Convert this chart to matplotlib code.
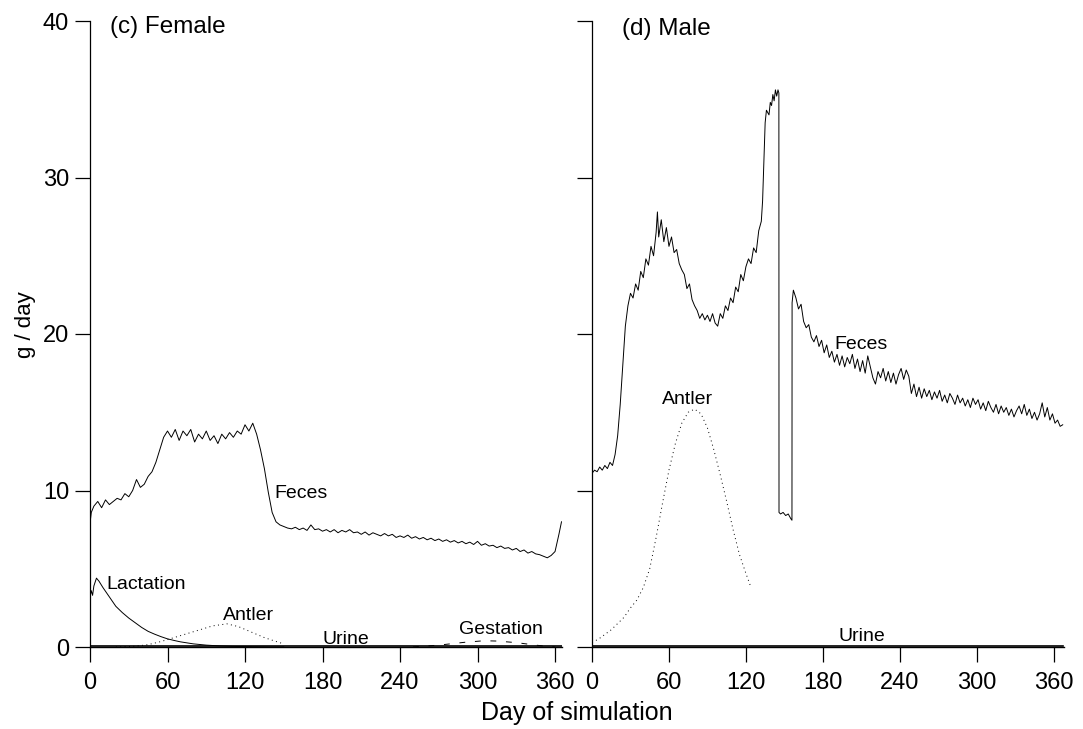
import matplotlib
matplotlib.use("Agg")
import matplotlib.pyplot as plt

plt.rcParams['font.family'] = ['Liberation Sans', 'DejaVu Sans']

# ---------------- data ----------------
y_ticks = [0, 10, 20, 30, 40]
x_ticks = [0, 60, 120, 180, 240, 300, 360]

female_feces = [
    (0, 7.9), (1, 8.6), (3, 9.0), (6, 9.3), (9, 8.9), (12, 9.4), (15, 9.1), (18, 9.3), (21, 9.5),
    (24, 9.4), (27, 9.8), (30, 9.6), (33, 10.0), (36, 10.7), (39, 10.2), (42, 10.4), (45, 10.9),
    (48, 11.2), (51, 11.8), (54, 12.6), (57, 13.4), (60, 13.8), (63, 13.4), (66, 13.9), (69, 13.2),
    (72, 13.8), (75, 13.5), (78, 13.9), (81, 13.1), (84, 13.6), (87, 13.3), (90, 13.8), (93, 13.2),
    (96, 13.5), (99, 13.0), (102, 13.6), (105, 13.3), (108, 13.7), (111, 13.4), (114, 13.8),
    (117, 13.6), (120, 14.2), (123, 13.8), (126, 14.3), (129, 13.6), (132, 12.6), (135, 11.4),
    (138, 9.9), (141, 8.6), (144, 8.0), (147, 7.8), (150, 7.7), (153, 7.6), (156, 7.55),
    (159, 7.65), (162, 7.5), (165, 7.6), (168, 7.45), (171, 7.8), (174, 7.5), (177, 7.55),
    (180, 7.4), (183, 7.5), (186, 7.35), (189, 7.5), (192, 7.3), (195, 7.45), (198, 7.35),
    (201, 7.5), (204, 7.3), (207, 7.35), (210, 7.2), (213, 7.35), (216, 7.15), (219, 7.3),
    (222, 7.2), (225, 7.1), (228, 7.25), (231, 7.1), (234, 7.2), (237, 7.0), (240, 7.1),
    (243, 7.0), (246, 7.15), (249, 6.95), (252, 7.05), (255, 6.9), (258, 7.0), (261, 6.85),
    (264, 6.95), (267, 6.8), (270, 6.9), (273, 6.75), (276, 6.85), (279, 6.7), (282, 6.8),
    (285, 6.65), (288, 6.75), (291, 6.6), (294, 6.7), (297, 6.55), (300, 6.75), (303, 6.5),
    (306, 6.6), (309, 6.45), (312, 6.5), (315, 6.35), (318, 6.45), (321, 6.3), (324, 6.35),
    (327, 6.2), (330, 6.3), (333, 6.1), (336, 6.2), (339, 6.0), (342, 6.1), (345, 5.95),
    (348, 5.9), (351, 5.8), (354, 5.7), (357, 5.85), (360, 6.1), (363, 7.2), (365, 8.0),
]

female_lactation = [
    (0, 3.2), (1, 3.6), (2, 3.3), (3, 3.9), (5, 4.4), (7, 4.2), (10, 3.8), (15, 3.2), (20, 2.6),
    (25, 2.2), (30, 1.85), (35, 1.55), (40, 1.25), (45, 1.0), (50, 0.82), (55, 0.66), (60, 0.52),
    (65, 0.42), (70, 0.33), (80, 0.2), (90, 0.12), (100, 0.07), (110, 0.04), (125, 0.02),
    (140, 0.0), (150, 0.0),
]

female_antler = [
    (20, 0.0), (35, 0.05), (45, 0.15), (55, 0.35), (65, 0.6), (75, 0.85), (85, 1.1), (95, 1.35),
    (106, 1.48), (115, 1.3), (125, 0.95), (135, 0.6), (146, 0.3), (148, 0.25),
]

female_gestation = [
    (250, 0.0), (270, 0.12), (290, 0.3), (305, 0.4), (315, 0.38), (330, 0.28), (345, 0.12),
    (355, 0.03), (360, 0.0),
]

female_urine = [(0, 0.05), (365, 0.05)]

male_feces = [
    (0, 11.1), (2, 11.3), (4, 11.2), (6, 11.5), (8, 11.3), (10, 11.6), (12, 11.4), (14, 11.8),
    (16, 11.6), (18, 12.3), (20, 13.5), (22, 15.5), (24, 18.0), (26, 20.5), (28, 21.8), (30, 22.6),
    (32, 22.3), (34, 23.2), (36, 22.8), (38, 24.0), (40, 23.6), (42, 24.8), (44, 24.4), (46, 25.6),
    (48, 25.0), (50, 26.5), (51, 27.8), (52, 26.2), (54, 27.3), (56, 25.9), (58, 26.8), (60, 25.6),
    (62, 26.2), (64, 25.2), (66, 25.4), (68, 24.5), (70, 24.1), (72, 23.8), (74, 22.9), (76, 23.2),
    (78, 22.2), (80, 21.8), (82, 21.5), (84, 21.0), (86, 21.3), (88, 20.9), (90, 21.2), (92, 20.8),
    (94, 21.3), (96, 20.7), (98, 20.5), (100, 21.3), (102, 21.0), (104, 21.8), (106, 21.5),
    (108, 22.3), (110, 22.0), (112, 23.0), (114, 22.7), (116, 23.8), (118, 23.4), (120, 24.3),
    (122, 24.8), (124, 24.5), (126, 25.5), (128, 25.2), (130, 26.6), (132, 27.2), (133, 28.5),
    (134, 31.0), (135, 33.5), (136, 34.3), (138, 34.0), (139, 34.8), (140, 34.6), (141, 35.3),
    (142, 34.9), (143, 35.6), (144, 35.2), (145, 35.6), (145.7, 35.4), (145.8, 8.6), (147, 8.5),
    (149, 8.6), (151, 8.4), (153, 8.5), (155, 8.2), (155.9, 8.1), (156, 22.0), (157, 22.8),
    (159, 22.3), (161, 21.6), (163, 21.9), (165, 20.8), (167, 20.4), (169, 20.6), (171, 19.8),
    (173, 19.5), (175, 19.9), (177, 19.2), (179, 19.6), (181, 18.8), (183, 19.3), (185, 18.5),
    (187, 18.9), (189, 18.2), (191, 18.7), (193, 18.0), (195, 18.6), (197, 17.9), (199, 18.5),
    (201, 18.1), (203, 18.7), (205, 17.8), (207, 18.4), (209, 17.6), (211, 18.3), (213, 17.5),
    (215, 18.6), (217, 17.9), (219, 17.2), (221, 16.8), (223, 17.6), (225, 17.2), (227, 17.8),
    (229, 17.0), (231, 17.6), (233, 16.9), (235, 17.5), (237, 16.8), (239, 17.4), (241, 17.8),
    (243, 17.1), (245, 17.7), (247, 17.3), (249, 16.2), (251, 16.8), (253, 16.0), (255, 16.6),
    (257, 15.9), (259, 16.5), (261, 16.0), (263, 16.4), (265, 15.8), (267, 16.3), (269, 15.9),
    (271, 16.4), (273, 15.7), (275, 16.1), (277, 15.6), (279, 16.2), (281, 15.9), (283, 15.5),
    (285, 16.1), (287, 15.6), (289, 15.9), (291, 15.4), (293, 15.8), (295, 15.3), (297, 15.9),
    (299, 15.5), (301, 15.8), (303, 15.2), (305, 15.6), (307, 15.1), (309, 15.7), (311, 15.3),
    (313, 15.0), (315, 15.5), (317, 14.9), (319, 15.4), (321, 15.0), (323, 15.3), (325, 14.8),
    (327, 15.2), (329, 14.7), (331, 15.1), (333, 15.4), (335, 14.9), (337, 15.5), (339, 14.8),
    (341, 15.2), (343, 14.6), (345, 15.0), (347, 14.5), (349, 14.9), (351, 15.6), (353, 14.7),
    (355, 15.3), (357, 14.5), (359, 14.9), (361, 14.3), (363, 14.5), (365, 14.1), (367, 14.2),
]

male_antler = [
    (0, 0.3), (5, 0.5), (10, 0.8), (15, 1.1), (20, 1.5), (25, 1.9), (30, 2.5), (35, 3.0),
    (40, 3.8), (45, 5.0), (50, 7.0), (55, 9.2), (60, 11.3), (65, 13.0), (70, 14.3), (75, 15.0),
    (80, 15.2), (85, 14.9), (90, 14.0), (95, 12.6), (100, 11.0), (105, 9.3), (110, 7.5),
    (115, 5.9), (120, 4.7), (124, 3.8),
]

male_urine = [(0, 0.05), (367, 0.05)]


def xy(points):
    return [p[0] for p in points], [p[1] for p in points]


# ---------------- figure ----------------
fig = plt.figure(figsize=(10.83, 7.29), dpi=100)
W, H = 1083, 729
ax1 = fig.add_axes([90 / W, 82 / H, 471.5 / W, 626 / H])
ax2 = fig.add_axes([592 / W, 82 / H, 472 / W, 626 / H])

lw = 0.7
dotted = (0, (1, 3.5))
dashed = (0, (6, 10))

for ax in (ax1, ax2):
    ax.set_ylim(0, 40)
    ax.spines['top'].set_visible(False)
    ax.spines['right'].set_visible(False)
    ax.spines['left'].set_linewidth(0.9)
    ax.spines['bottom'].set_linewidth(1.0)
    ax.set_yticks(y_ticks)
    ax.set_xticks(x_ticks)
    ax.tick_params(direction='out', length=11, width=0.9, labelsize=17)
    ax.tick_params(axis='x', pad=7)
    ax.tick_params(axis='y', pad=4)
    ax.patch.set_alpha(0)

ax1.set_xlim(0, 365)
ax2.set_xlim(0, 368)
ax2.set_yticklabels([])

# female
ax1.plot(*xy(female_feces), color='black', lw=lw)
ax1.plot(*xy(female_lactation), color='black', lw=lw)
ax1.plot(*xy(female_antler), color='black', lw=lw, linestyle=dotted)
ax1.plot(*xy(female_gestation), color='black', lw=lw, linestyle=dashed)
ax1.plot(*xy(female_urine), color='black', lw=1.2)

# male
ax2.plot(*xy(male_feces), color='black', lw=lw)
ax2.plot(*xy(male_antler), color='black', lw=lw, linestyle=dotted)
ax2.plot(*xy(male_urine), color='black', lw=1.2)

# annotations
ann = 14
ax1.text(15.5, 39.6, "(c) Female", fontsize=17.5, va='center', ha='left')
ax2.text(23.4, 39.5, "(d) Male", fontsize=17.5, va='center', ha='left')
ax1.text(143, 9.8, "Feces", fontsize=ann, va='center', ha='left')
ax1.text(13, 4.0, "Lactation", fontsize=ann, va='center', ha='left')
ax1.text(103, 2.0, "Antler", fontsize=ann, va='center', ha='left')
ax1.text(180, 0.5, "Urine", fontsize=ann, va='center', ha='left')
ax1.text(286, 1.15, "Gestation", fontsize=ann, va='center', ha='left')
ax2.text(189, 19.3, "Feces", fontsize=ann, va='center', ha='left')
ax2.text(54.5, 15.8, "Antler", fontsize=ann, va='center', ha='left')
ax2.text(192, 0.7, "Urine", fontsize=ann, va='center', ha='left')

fig.text(577 / W, 1 - 713 / H, "Day of simulation", fontsize=18, ha='center', va='center')
fig.text(25 / W, 1 - 325 / H, "g / day", fontsize=16, ha='center', va='center', rotation=90)

fig.savefig("out.png", dpi=100)
